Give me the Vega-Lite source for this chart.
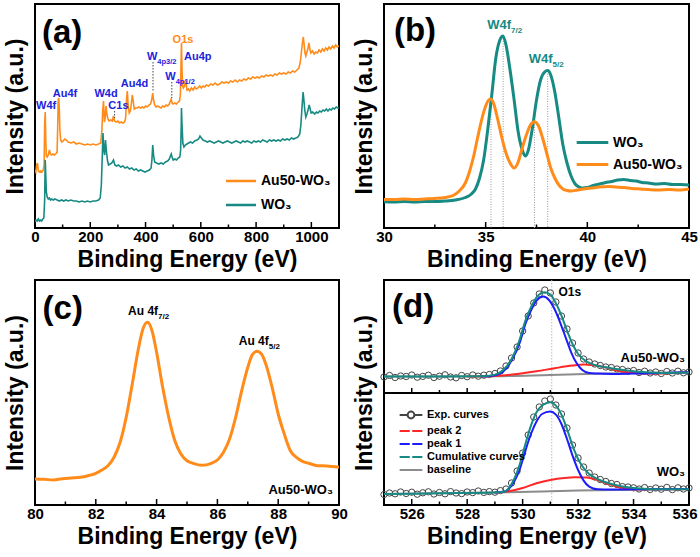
{
 "$schema": "https://vega.github.io/schema/vega-lite/v6.json",
 "background": "white",
 "padding": {"left": 3, "top": 3, "right": 1, "bottom": 1},
 "config": {
  "font": "Liberation Sans",
  "view": {"stroke": "black", "strokeWidth": 2},
  "axis": {"grid": false, "domain": false, "ticks": false, "labelFont": "Liberation Sans", "labelFontSize": 15, "labelFontWeight": "bold", "labelColor": "black", "titleFont": "Liberation Sans", "titleFontSize": 23, "titleFontWeight": "bold", "titleColor": "black"},
  "axisY": {"labels": false, "titlePadding": 8},
  "axisX": {"labelPadding": 1, "titlePadding": 4, "labelFlush": false},
  "text": {"font": "Liberation Sans", "fontWeight": "bold"}
 },
 "datasets": {
  "a": [
   {"s":"Au50-WO₃","E":0,"I":58},{"s":"Au50-WO₃","E":3,"I":56},{"s":"Au50-WO₃","E":6,"I":63},{"s":"Au50-WO₃","E":9,"I":65},{"s":"Au50-WO₃","E":12,"I":57},{"s":"Au50-WO₃","E":16,"I":56},{"s":"Au50-WO₃","E":20,"I":57},{"s":"Au50-WO₃","E":25,"I":56},{"s":"Au50-WO₃","E":30,"I":58},{"s":"Au50-WO₃","E":33,"I":63},{"s":"Au50-WO₃","E":35,"I":105},{"s":"Au50-WO₃","E":37,"I":116},{"s":"Au50-WO₃","E":39,"I":88},{"s":"Au50-WO₃","E":41,"I":72},{"s":"Au50-WO₃","E":44,"I":71},{"s":"Au50-WO₃","E":48,"I":73},{"s":"Au50-WO₃","E":52,"I":78},{"s":"Au50-WO₃","E":56,"I":74},{"s":"Au50-WO₃","E":60,"I":73},{"s":"Au50-WO₃","E":65,"I":74},{"s":"Au50-WO₃","E":70,"I":73},{"s":"Au50-WO₃","E":75,"I":74},{"s":"Au50-WO₃","E":80,"I":76},{"s":"Au50-WO₃","E":82,"I":100},{"s":"Au50-WO₃","E":84,"I":128},{"s":"Au50-WO₃","E":86,"I":130},{"s":"Au50-WO₃","E":88,"I":118},{"s":"Au50-WO₃","E":90,"I":98},{"s":"Au50-WO₃","E":93,"I":88},{"s":"Au50-WO₃","E":97,"I":86},{"s":"Au50-WO₃","E":102,"I":87},{"s":"Au50-WO₃","E":108,"I":89},{"s":"Au50-WO₃","E":114,"I":88},{"s":"Au50-WO₃","E":120,"I":86},{"s":"Au50-WO₃","E":130,"I":85},{"s":"Au50-WO₃","E":140,"I":86},{"s":"Au50-WO₃","E":150,"I":84},{"s":"Au50-WO₃","E":160,"I":85},{"s":"Au50-WO₃","E":170,"I":84},{"s":"Au50-WO₃","E":180,"I":83},{"s":"Au50-WO₃","E":190,"I":84},{"s":"Au50-WO₃","E":200,"I":83},{"s":"Au50-WO₃","E":210,"I":84},{"s":"Au50-WO₃","E":220,"I":83},{"s":"Au50-WO₃","E":230,"I":84},{"s":"Au50-WO₃","E":238,"I":85},{"s":"Au50-WO₃","E":242,"I":98},{"s":"Au50-WO₃","E":245,"I":118},{"s":"Au50-WO₃","E":248,"I":127},{"s":"Au50-WO₃","E":251,"I":106},{"s":"Au50-WO₃","E":254,"I":110},{"s":"Au50-WO₃","E":257,"I":122},{"s":"Au50-WO₃","E":260,"I":114},{"s":"Au50-WO₃","E":264,"I":109},{"s":"Au50-WO₃","E":268,"I":107},{"s":"Au50-WO₃","E":274,"I":108},{"s":"Au50-WO₃","E":280,"I":107},{"s":"Au50-WO₃","E":284,"I":112},{"s":"Au50-WO₃","E":288,"I":107},{"s":"Au50-WO₃","E":294,"I":106},{"s":"Au50-WO₃","E":300,"I":107},{"s":"Au50-WO₃","E":306,"I":105},{"s":"Au50-WO₃","E":312,"I":106},{"s":"Au50-WO₃","E":318,"I":105},{"s":"Au50-WO₃","E":324,"I":106},{"s":"Au50-WO₃","E":328,"I":110},{"s":"Au50-WO₃","E":331,"I":128},{"s":"Au50-WO₃","E":334,"I":137},{"s":"Au50-WO₃","E":337,"I":123},{"s":"Au50-WO₃","E":341,"I":115},{"s":"Au50-WO₃","E":345,"I":117},{"s":"Au50-WO₃","E":349,"I":125},{"s":"Au50-WO₃","E":352,"I":133},{"s":"Au50-WO₃","E":355,"I":128},{"s":"Au50-WO₃","E":359,"I":119},{"s":"Au50-WO₃","E":364,"I":120},{"s":"Au50-WO₃","E":370,"I":120},{"s":"Au50-WO₃","E":376,"I":121},{"s":"Au50-WO₃","E":382,"I":120},{"s":"Au50-WO₃","E":388,"I":121},{"s":"Au50-WO₃","E":394,"I":120},{"s":"Au50-WO₃","E":400,"I":122},{"s":"Au50-WO₃","E":406,"I":121},{"s":"Au50-WO₃","E":412,"I":123},{"s":"Au50-WO₃","E":418,"I":124},{"s":"Au50-WO₃","E":422,"I":128},{"s":"Au50-WO₃","E":426,"I":135},{"s":"Au50-WO₃","E":429,"I":128},{"s":"Au50-WO₃","E":433,"I":123},{"s":"Au50-WO₃","E":438,"I":121},{"s":"Au50-WO₃","E":444,"I":122},{"s":"Au50-WO₃","E":450,"I":121},{"s":"Au50-WO₃","E":456,"I":120},{"s":"Au50-WO₃","E":462,"I":122},{"s":"Au50-WO₃","E":468,"I":121},{"s":"Au50-WO₃","E":474,"I":123},{"s":"Au50-WO₃","E":480,"I":122},{"s":"Au50-WO₃","E":486,"I":124},{"s":"Au50-WO₃","E":490,"I":127},{"s":"Au50-WO₃","E":493,"I":129},{"s":"Au50-WO₃","E":496,"I":125},{"s":"Au50-WO₃","E":500,"I":124},{"s":"Au50-WO₃","E":506,"I":125},{"s":"Au50-WO₃","E":512,"I":124},{"s":"Au50-WO₃","E":518,"I":126},{"s":"Au50-WO₃","E":523,"I":127},{"s":"Au50-WO₃","E":526,"I":133},{"s":"Au50-WO₃","E":528,"I":158},{"s":"Au50-WO₃","E":530,"I":185},{"s":"Au50-WO₃","E":532,"I":158},{"s":"Au50-WO₃","E":534,"I":142},{"s":"Au50-WO₃","E":537,"I":140},{"s":"Au50-WO₃","E":541,"I":142},{"s":"Au50-WO₃","E":544,"I":148},{"s":"Au50-WO₃","E":547,"I":144},{"s":"Au50-WO₃","E":550,"I":138},{"s":"Au50-WO₃","E":555,"I":139},{"s":"Au50-WO₃","E":560,"I":137},{"s":"Au50-WO₃","E":566,"I":140},{"s":"Au50-WO₃","E":572,"I":138},{"s":"Au50-WO₃","E":578,"I":141},{"s":"Au50-WO₃","E":584,"I":139},{"s":"Au50-WO₃","E":590,"I":140},{"s":"Au50-WO₃","E":596,"I":142},{"s":"Au50-WO₃","E":602,"I":140},{"s":"Au50-WO₃","E":608,"I":142},{"s":"Au50-WO₃","E":614,"I":141},{"s":"Au50-WO₃","E":620,"I":143},{"s":"Au50-WO₃","E":628,"I":142},{"s":"Au50-WO₃","E":636,"I":144},{"s":"Au50-WO₃","E":644,"I":143},{"s":"Au50-WO₃","E":652,"I":145},{"s":"Au50-WO₃","E":660,"I":143},{"s":"Au50-WO₃","E":668,"I":144},{"s":"Au50-WO₃","E":676,"I":146},{"s":"Au50-WO₃","E":684,"I":145},{"s":"Au50-WO₃","E":692,"I":146},{"s":"Au50-WO₃","E":700,"I":145},{"s":"Au50-WO₃","E":708,"I":147},{"s":"Au50-WO₃","E":716,"I":146},{"s":"Au50-WO₃","E":724,"I":148},{"s":"Au50-WO₃","E":732,"I":146},{"s":"Au50-WO₃","E":740,"I":148},{"s":"Au50-WO₃","E":748,"I":147},{"s":"Au50-WO₃","E":756,"I":149},{"s":"Au50-WO₃","E":764,"I":148},{"s":"Au50-WO₃","E":772,"I":150},{"s":"Au50-WO₃","E":780,"I":149},{"s":"Au50-WO₃","E":788,"I":151},{"s":"Au50-WO₃","E":796,"I":150},{"s":"Au50-WO₃","E":804,"I":151},{"s":"Au50-WO₃","E":812,"I":150},{"s":"Au50-WO₃","E":820,"I":152},{"s":"Au50-WO₃","E":828,"I":151},{"s":"Au50-WO₃","E":836,"I":153},{"s":"Au50-WO₃","E":844,"I":152},{"s":"Au50-WO₃","E":852,"I":153},{"s":"Au50-WO₃","E":860,"I":152},{"s":"Au50-WO₃","E":868,"I":154},{"s":"Au50-WO₃","E":876,"I":153},{"s":"Au50-WO₃","E":884,"I":155},{"s":"Au50-WO₃","E":892,"I":154},{"s":"Au50-WO₃","E":900,"I":155},{"s":"Au50-WO₃","E":908,"I":154},{"s":"Au50-WO₃","E":916,"I":156},{"s":"Au50-WO₃","E":924,"I":155},{"s":"Au50-WO₃","E":932,"I":157},{"s":"Au50-WO₃","E":940,"I":156},{"s":"Au50-WO₃","E":948,"I":158},{"s":"Au50-WO₃","E":955,"I":160},{"s":"Au50-WO₃","E":960,"I":166},{"s":"Au50-WO₃","E":964,"I":176},{"s":"Au50-WO₃","E":968,"I":186},{"s":"Au50-WO₃","E":971,"I":191},{"s":"Au50-WO₃","E":974,"I":183},{"s":"Au50-WO₃","E":977,"I":175},{"s":"Au50-WO₃","E":980,"I":172},{"s":"Au50-WO₃","E":984,"I":176},{"s":"Au50-WO₃","E":988,"I":180},{"s":"Au50-WO₃","E":991,"I":185},{"s":"Au50-WO₃","E":994,"I":180},{"s":"Au50-WO₃","E":998,"I":175},{"s":"Au50-WO₃","E":1004,"I":177},{"s":"Au50-WO₃","E":1010,"I":174},{"s":"Au50-WO₃","E":1016,"I":176},{"s":"Au50-WO₃","E":1022,"I":175},{"s":"Au50-WO₃","E":1028,"I":178},{"s":"Au50-WO₃","E":1034,"I":176},{"s":"Au50-WO₃","E":1040,"I":179},{"s":"Au50-WO₃","E":1046,"I":177},{"s":"Au50-WO₃","E":1052,"I":180},{"s":"Au50-WO₃","E":1058,"I":178},{"s":"Au50-WO₃","E":1064,"I":181},{"s":"Au50-WO₃","E":1070,"I":179},{"s":"Au50-WO₃","E":1076,"I":182},{"s":"Au50-WO₃","E":1082,"I":180},{"s":"Au50-WO₃","E":1088,"I":183},{"s":"Au50-WO₃","E":1094,"I":181},{"s":"Au50-WO₃","E":1100,"I":182},
   {"s":"WO₃","E":0,"I":6},{"s":"WO₃","E":4,"I":8},{"s":"WO₃","E":8,"I":7},{"s":"WO₃","E":12,"I":9},{"s":"WO₃","E":16,"I":7},{"s":"WO₃","E":20,"I":8},{"s":"WO₃","E":24,"I":7},{"s":"WO₃","E":28,"I":9},{"s":"WO₃","E":32,"I":10},{"s":"WO₃","E":35,"I":28},{"s":"WO₃","E":37,"I":68},{"s":"WO₃","E":39,"I":53},{"s":"WO₃","E":41,"I":36},{"s":"WO₃","E":44,"I":31},{"s":"WO₃","E":48,"I":29},{"s":"WO₃","E":52,"I":30},{"s":"WO₃","E":56,"I":28},{"s":"WO₃","E":60,"I":29},{"s":"WO₃","E":66,"I":28},{"s":"WO₃","E":72,"I":29},{"s":"WO₃","E":80,"I":28},{"s":"WO₃","E":88,"I":27},{"s":"WO₃","E":96,"I":28},{"s":"WO₃","E":104,"I":27},{"s":"WO₃","E":112,"I":28},{"s":"WO₃","E":120,"I":27},{"s":"WO₃","E":130,"I":28},{"s":"WO₃","E":140,"I":27},{"s":"WO₃","E":150,"I":27},{"s":"WO₃","E":160,"I":26},{"s":"WO₃","E":170,"I":27},{"s":"WO₃","E":180,"I":26},{"s":"WO₃","E":190,"I":27},{"s":"WO₃","E":200,"I":26},{"s":"WO₃","E":210,"I":27},{"s":"WO₃","E":220,"I":27},{"s":"WO₃","E":230,"I":28},{"s":"WO₃","E":236,"I":30},{"s":"WO₃","E":240,"I":43},{"s":"WO₃","E":243,"I":68},{"s":"WO₃","E":246,"I":95},{"s":"WO₃","E":249,"I":78},{"s":"WO₃","E":252,"I":73},{"s":"WO₃","E":255,"I":88},{"s":"WO₃","E":258,"I":78},{"s":"WO₃","E":262,"I":68},{"s":"WO₃","E":266,"I":63},{"s":"WO₃","E":272,"I":64},{"s":"WO₃","E":278,"I":65},{"s":"WO₃","E":284,"I":68},{"s":"WO₃","E":289,"I":63},{"s":"WO₃","E":295,"I":62},{"s":"WO₃","E":302,"I":63},{"s":"WO₃","E":310,"I":61},{"s":"WO₃","E":318,"I":62},{"s":"WO₃","E":326,"I":60},{"s":"WO₃","E":334,"I":61},{"s":"WO₃","E":342,"I":59},{"s":"WO₃","E":350,"I":60},{"s":"WO₃","E":358,"I":58},{"s":"WO₃","E":366,"I":59},{"s":"WO₃","E":374,"I":57},{"s":"WO₃","E":382,"I":58},{"s":"WO₃","E":390,"I":57},{"s":"WO₃","E":398,"I":56},{"s":"WO₃","E":406,"I":57},{"s":"WO₃","E":414,"I":58},{"s":"WO₃","E":420,"I":60},{"s":"WO₃","E":423,"I":68},{"s":"WO₃","E":426,"I":83},{"s":"WO₃","E":429,"I":73},{"s":"WO₃","E":433,"I":66},{"s":"WO₃","E":440,"I":65},{"s":"WO₃","E":448,"I":64},{"s":"WO₃","E":456,"I":65},{"s":"WO₃","E":464,"I":64},{"s":"WO₃","E":472,"I":66},{"s":"WO₃","E":480,"I":67},{"s":"WO₃","E":486,"I":69},{"s":"WO₃","E":490,"I":72},{"s":"WO₃","E":493,"I":74},{"s":"WO₃","E":496,"I":71},{"s":"WO₃","E":500,"I":68},{"s":"WO₃","E":506,"I":69},{"s":"WO₃","E":512,"I":68},{"s":"WO₃","E":518,"I":70},{"s":"WO₃","E":524,"I":71},{"s":"WO₃","E":527,"I":78},{"s":"WO₃","E":529,"I":100},{"s":"WO₃","E":530,"I":120},{"s":"WO₃","E":532,"I":103},{"s":"WO₃","E":535,"I":85},{"s":"WO₃","E":539,"I":81},{"s":"WO₃","E":544,"I":83},{"s":"WO₃","E":550,"I":84},{"s":"WO₃","E":556,"I":85},{"s":"WO₃","E":562,"I":86},{"s":"WO₃","E":570,"I":85},{"s":"WO₃","E":578,"I":87},{"s":"WO₃","E":586,"I":88},{"s":"WO₃","E":592,"I":89},{"s":"WO₃","E":597,"I":92},{"s":"WO₃","E":602,"I":90},{"s":"WO₃","E":608,"I":88},{"s":"WO₃","E":616,"I":87},{"s":"WO₃","E":624,"I":86},{"s":"WO₃","E":632,"I":87},{"s":"WO₃","E":640,"I":86},{"s":"WO₃","E":648,"I":85},{"s":"WO₃","E":656,"I":86},{"s":"WO₃","E":664,"I":87},{"s":"WO₃","E":672,"I":86},{"s":"WO₃","E":680,"I":85},{"s":"WO₃","E":688,"I":86},{"s":"WO₃","E":696,"I":87},{"s":"WO₃","E":704,"I":86},{"s":"WO₃","E":712,"I":85},{"s":"WO₃","E":720,"I":86},{"s":"WO₃","E":728,"I":87},{"s":"WO₃","E":736,"I":86},{"s":"WO₃","E":744,"I":85},{"s":"WO₃","E":752,"I":87},{"s":"WO₃","E":760,"I":86},{"s":"WO₃","E":768,"I":87},{"s":"WO₃","E":776,"I":86},{"s":"WO₃","E":784,"I":85},{"s":"WO₃","E":792,"I":87},{"s":"WO₃","E":800,"I":86},{"s":"WO₃","E":808,"I":87},{"s":"WO₃","E":816,"I":86},{"s":"WO₃","E":824,"I":88},{"s":"WO₃","E":832,"I":87},{"s":"WO₃","E":840,"I":86},{"s":"WO₃","E":848,"I":88},{"s":"WO₃","E":856,"I":87},{"s":"WO₃","E":864,"I":88},{"s":"WO₃","E":872,"I":87},{"s":"WO₃","E":880,"I":88},{"s":"WO₃","E":888,"I":87},{"s":"WO₃","E":896,"I":89},{"s":"WO₃","E":904,"I":88},{"s":"WO₃","E":912,"I":89},{"s":"WO₃","E":920,"I":88},{"s":"WO₃","E":928,"I":90},{"s":"WO₃","E":936,"I":89},{"s":"WO₃","E":944,"I":90},{"s":"WO₃","E":952,"I":91},{"s":"WO₃","E":958,"I":94},{"s":"WO₃","E":962,"I":103},{"s":"WO₃","E":966,"I":120},{"s":"WO₃","E":970,"I":136},{"s":"WO₃","E":973,"I":128},{"s":"WO₃","E":976,"I":118},{"s":"WO₃","E":980,"I":111},{"s":"WO₃","E":984,"I":114},{"s":"WO₃","E":988,"I":118},{"s":"WO₃","E":992,"I":123},{"s":"WO₃","E":995,"I":120},{"s":"WO₃","E":999,"I":115},{"s":"WO₃","E":1005,"I":116},{"s":"WO₃","E":1012,"I":114},{"s":"WO₃","E":1018,"I":116},{"s":"WO₃","E":1024,"I":115},{"s":"WO₃","E":1030,"I":117},{"s":"WO₃","E":1036,"I":116},{"s":"WO₃","E":1042,"I":118},{"s":"WO₃","E":1048,"I":117},{"s":"WO₃","E":1054,"I":119},{"s":"WO₃","E":1060,"I":117},{"s":"WO₃","E":1066,"I":119},{"s":"WO₃","E":1072,"I":118},{"s":"WO₃","E":1078,"I":120},{"s":"WO₃","E":1084,"I":119},{"s":"WO₃","E":1090,"I":121},{"s":"WO₃","E":1096,"I":120},{"s":"WO₃","E":1100,"I":120}
  ],
  "a_w": [{"E":442.5,"I":168,"t":"W","u":"4p3/2"},{"E":509,"I":148,"t":"W","u":"4p1/2"}],
  "b": [
   {"s":"WO₃","E":30,"I":26.3},{"s":"WO₃","E":30.5,"I":26},{"s":"WO₃","E":31,"I":26.5},{"s":"WO₃","E":31.5,"I":26},{"s":"WO₃","E":32,"I":26.5},{"s":"WO₃","E":32.5,"I":26.5},{"s":"WO₃","E":33,"I":27},{"s":"WO₃","E":33.5,"I":28},{"s":"WO₃","E":34,"I":30.5},{"s":"WO₃","E":34.3,"I":34},{"s":"WO₃","E":34.5,"I":39},{"s":"WO₃","E":34.7,"I":50},{"s":"WO₃","E":34.9,"I":68},{"s":"WO₃","E":35.1,"I":98},{"s":"WO₃","E":35.3,"I":133},{"s":"WO₃","E":35.5,"I":170},{"s":"WO₃","E":35.7,"I":188},{"s":"WO₃","E":35.85,"I":192},{"s":"WO₃","E":36,"I":183},{"s":"WO₃","E":36.2,"I":158},{"s":"WO₃","E":36.4,"I":128},{"s":"WO₃","E":36.6,"I":96},{"s":"WO₃","E":36.8,"I":78},{"s":"WO₃","E":36.95,"I":72},{"s":"WO₃","E":37.1,"I":78},{"s":"WO₃","E":37.3,"I":100},{"s":"WO₃","E":37.5,"I":128},{"s":"WO₃","E":37.7,"I":148},{"s":"WO₃","E":37.9,"I":156},{"s":"WO₃","E":38.05,"I":157.5},{"s":"WO₃","E":38.2,"I":153},{"s":"WO₃","E":38.4,"I":136},{"s":"WO₃","E":38.6,"I":110},{"s":"WO₃","E":38.8,"I":83},{"s":"WO₃","E":39,"I":65},{"s":"WO₃","E":39.2,"I":52},{"s":"WO₃","E":39.4,"I":44},{"s":"WO₃","E":39.6,"I":41},{"s":"WO₃","E":39.8,"I":40},{"s":"WO₃","E":40,"I":40.5},{"s":"WO₃","E":40.3,"I":42.5},{"s":"WO₃","E":40.6,"I":44},{"s":"WO₃","E":40.9,"I":45.5},{"s":"WO₃","E":41.2,"I":46.5},{"s":"WO₃","E":41.5,"I":48},{"s":"WO₃","E":41.8,"I":48.5},{"s":"WO₃","E":42.1,"I":47.5},{"s":"WO₃","E":42.4,"I":47},{"s":"WO₃","E":42.7,"I":45.5},{"s":"WO₃","E":43,"I":45},{"s":"WO₃","E":43.4,"I":44},{"s":"WO₃","E":43.8,"I":44.5},{"s":"WO₃","E":44.2,"I":43.5},{"s":"WO₃","E":44.6,"I":43.5},{"s":"WO₃","E":45,"I":43},
   {"s":"Au50-WO₃","E":30,"I":28.5},{"s":"Au50-WO₃","E":30.5,"I":28.5},{"s":"Au50-WO₃","E":31,"I":29},{"s":"Au50-WO₃","E":31.5,"I":28.5},{"s":"Au50-WO₃","E":32,"I":29},{"s":"Au50-WO₃","E":32.5,"I":29.5},{"s":"Au50-WO₃","E":33,"I":30.5},{"s":"Au50-WO₃","E":33.4,"I":32.5},{"s":"Au50-WO₃","E":33.7,"I":37},{"s":"Au50-WO₃","E":34,"I":45},{"s":"Au50-WO₃","E":34.2,"I":56},{"s":"Au50-WO₃","E":34.4,"I":71},{"s":"Au50-WO₃","E":34.6,"I":90},{"s":"Au50-WO₃","E":34.8,"I":108},{"s":"Au50-WO₃","E":35,"I":122},{"s":"Au50-WO₃","E":35.15,"I":128},{"s":"Au50-WO₃","E":35.26,"I":129},{"s":"Au50-WO₃","E":35.4,"I":124},{"s":"Au50-WO₃","E":35.6,"I":108},{"s":"Au50-WO₃","E":35.8,"I":90},{"s":"Au50-WO₃","E":36,"I":75},{"s":"Au50-WO₃","E":36.2,"I":65},{"s":"Au50-WO₃","E":36.4,"I":60},{"s":"Au50-WO₃","E":36.6,"I":66},{"s":"Au50-WO₃","E":36.8,"I":80},{"s":"Au50-WO₃","E":37,"I":93},{"s":"Au50-WO₃","E":37.2,"I":103},{"s":"Au50-WO₃","E":37.4,"I":106.3},{"s":"Au50-WO₃","E":37.6,"I":102},{"s":"Au50-WO₃","E":37.8,"I":90},{"s":"Au50-WO₃","E":38,"I":75},{"s":"Au50-WO₃","E":38.2,"I":60},{"s":"Au50-WO₃","E":38.4,"I":50},{"s":"Au50-WO₃","E":38.6,"I":43},{"s":"Au50-WO₃","E":38.8,"I":39},{"s":"Au50-WO₃","E":39,"I":37.5},{"s":"Au50-WO₃","E":39.2,"I":37},{"s":"Au50-WO₃","E":39.5,"I":38},{"s":"Au50-WO₃","E":39.8,"I":39},{"s":"Au50-WO₃","E":40.2,"I":40},{"s":"Au50-WO₃","E":40.6,"I":41},{"s":"Au50-WO₃","E":41,"I":41.5},{"s":"Au50-WO₃","E":41.4,"I":41},{"s":"Au50-WO₃","E":41.8,"I":40.5},{"s":"Au50-WO₃","E":42.2,"I":39.5},{"s":"Au50-WO₃","E":42.6,"I":39},{"s":"Au50-WO₃","E":43,"I":38.5},{"s":"Au50-WO₃","E":43.5,"I":38},{"s":"Au50-WO₃","E":44,"I":38.5},{"s":"Au50-WO₃","E":44.5,"I":38},{"s":"Au50-WO₃","E":45,"I":39}
  ],
  "b_w": [{"E":36.25,"I":199,"t":"W4f","u":"7/2"},{"E":38.29,"I":165,"t":"W4f","u":"5/2"}],
  "c": [
   {"E":80,"I":26},{"E":80.3,"I":25.7},{"E":80.6,"I":25},{"E":80.9,"I":26.3},{"E":81.2,"I":27},{"E":81.5,"I":27.7},{"E":81.8,"I":29.7},{"E":82,"I":31.7},{"E":82.2,"I":35},{"E":82.4,"I":39.3},{"E":82.6,"I":47.7},{"E":82.8,"I":62.7},{"E":83,"I":87.7},{"E":83.2,"I":121},{"E":83.4,"I":156},{"E":83.55,"I":176},{"E":83.7,"I":182.7},{"E":83.85,"I":174.3},{"E":84,"I":152.7},{"E":84.2,"I":117.7},{"E":84.4,"I":87.7},{"E":84.6,"I":64.3},{"E":84.8,"I":51},{"E":85,"I":44.3},{"E":85.2,"I":41.7},{"E":85.5,"I":39.7},{"E":85.8,"I":41.7},{"E":86,"I":45},{"E":86.2,"I":52.7},{"E":86.4,"I":66},{"E":86.6,"I":87.7},{"E":86.8,"I":114.3},{"E":87,"I":137.7},{"E":87.15,"I":150.3},{"E":87.3,"I":153.7},{"E":87.45,"I":151},{"E":87.6,"I":140.3},{"E":87.8,"I":117.7},{"E":88,"I":91},{"E":88.2,"I":71},{"E":88.4,"I":54.3},{"E":88.6,"I":47.7},{"E":88.8,"I":43.7},{"E":89,"I":41.7},{"E":89.3,"I":39.3},{"E":89.6,"I":39},{"E":90,"I":37.7}
  ],
  "c_w": [{"E":84.05,"I":189.7,"t":"Au 4f","u":"7/2"},{"E":87.69,"I":159.7,"t":"Au 4f","u":"5/2"}],
  "d": [
   {"s":"baseline","p":"u","E":525,"I":128.4},{"s":"baseline","p":"u","E":529,"I":128.7},{"s":"baseline","p":"u","E":531,"I":130},{"s":"baseline","p":"u","E":533,"I":131.4},{"s":"baseline","p":"u","E":536,"I":132.7},
   {"s":"peak 2","p":"u","E":528,"I":128.4},{"s":"peak 2","p":"u","E":529,"I":129},{"s":"peak 2","p":"u","E":529.8,"I":131},{"s":"peak 2","p":"u","E":530.5,"I":133.7},{"s":"peak 2","p":"u","E":531.2,"I":137},{"s":"peak 2","p":"u","E":531.8,"I":139.4},{"s":"peak 2","p":"u","E":532.2,"I":140.4},{"s":"peak 2","p":"u","E":532.6,"I":139.7},{"s":"peak 2","p":"u","E":533,"I":137.4},{"s":"peak 2","p":"u","E":533.5,"I":134},{"s":"peak 2","p":"u","E":534,"I":132},{"s":"peak 2","p":"u","E":534.6,"I":131.4},{"s":"peak 2","p":"u","E":535.2,"I":131.7},{"s":"peak 2","p":"u","E":536,"I":132.7},
   {"s":"peak 1","p":"u","E":528.5,"I":128.4},{"s":"peak 1","p":"u","E":529,"I":129.7},{"s":"peak 1","p":"u","E":529.3,"I":133.4},{"s":"peak 1","p":"u","E":529.6,"I":144.4},{"s":"peak 1","p":"u","E":529.9,"I":162.7},{"s":"peak 1","p":"u","E":530.1,"I":181},{"s":"peak 1","p":"u","E":530.3,"I":194.4},{"s":"peak 1","p":"u","E":530.5,"I":204.4},{"s":"peak 1","p":"u","E":530.74,"I":208.4},{"s":"peak 1","p":"u","E":530.95,"I":205},{"s":"peak 1","p":"u","E":531.15,"I":196},{"s":"peak 1","p":"u","E":531.35,"I":182.7},{"s":"peak 1","p":"u","E":531.55,"I":167.7},{"s":"peak 1","p":"u","E":531.75,"I":152.7},{"s":"peak 1","p":"u","E":531.95,"I":141.7},{"s":"peak 1","p":"u","E":532.15,"I":135},{"s":"peak 1","p":"u","E":532.4,"I":132},{"s":"peak 1","p":"u","E":532.7,"I":131.4},{"s":"peak 1","p":"u","E":533.2,"I":131},{"s":"peak 1","p":"u","E":534,"I":131.4},{"s":"peak 1","p":"u","E":535,"I":132},{"s":"peak 1","p":"u","E":536,"I":132.7},
   {"s":"Cumulative curves","p":"u","E":525,"I":128.4},{"s":"Cumulative curves","p":"u","E":527,"I":128.4},{"s":"Cumulative curves","p":"u","E":528.5,"I":128.7},{"s":"Cumulative curves","p":"u","E":529,"I":130.4},{"s":"Cumulative curves","p":"u","E":529.3,"I":135},{"s":"Cumulative curves","p":"u","E":529.6,"I":146},{"s":"Cumulative curves","p":"u","E":529.9,"I":166},{"s":"Cumulative curves","p":"u","E":530.1,"I":184.4},{"s":"Cumulative curves","p":"u","E":530.3,"I":197.7},{"s":"Cumulative curves","p":"u","E":530.5,"I":207.7},{"s":"Cumulative curves","p":"u","E":530.8,"I":212.7},{"s":"Cumulative curves","p":"u","E":531,"I":210.4},{"s":"Cumulative curves","p":"u","E":531.2,"I":201.7},{"s":"Cumulative curves","p":"u","E":531.4,"I":189.4},{"s":"Cumulative curves","p":"u","E":531.6,"I":174.4},{"s":"Cumulative curves","p":"u","E":531.8,"I":161},{"s":"Cumulative curves","p":"u","E":532,"I":151},{"s":"Cumulative curves","p":"u","E":532.3,"I":143.7},{"s":"Cumulative curves","p":"u","E":532.6,"I":140},{"s":"Cumulative curves","p":"u","E":533,"I":137.7},{"s":"Cumulative curves","p":"u","E":533.5,"I":135.4},{"s":"Cumulative curves","p":"u","E":534,"I":133.7},{"s":"Cumulative curves","p":"u","E":534.5,"I":132.7},{"s":"Cumulative curves","p":"u","E":535,"I":132},{"s":"Cumulative curves","p":"u","E":536,"I":132.4},
   {"s":"baseline","p":"l","E":525,"I":11},{"s":"baseline","p":"l","E":529.4,"I":12.7},{"s":"baseline","p":"l","E":532,"I":14.4},{"s":"baseline","p":"l","E":536,"I":16},
   {"s":"peak 2","p":"l","E":529,"I":12.4},{"s":"peak 2","p":"l","E":529.5,"I":13.7},{"s":"peak 2","p":"l","E":530,"I":17},{"s":"peak 2","p":"l","E":530.5,"I":21.7},{"s":"peak 2","p":"l","E":531,"I":25},{"s":"peak 2","p":"l","E":531.5,"I":27},{"s":"peak 2","p":"l","E":531.9,"I":27.7},{"s":"peak 2","p":"l","E":532.3,"I":27.4},{"s":"peak 2","p":"l","E":532.7,"I":25},{"s":"peak 2","p":"l","E":533.1,"I":21},{"s":"peak 2","p":"l","E":533.5,"I":17.7},{"s":"peak 2","p":"l","E":534,"I":15.7},{"s":"peak 2","p":"l","E":535,"I":15.7},{"s":"peak 2","p":"l","E":536,"I":16},
   {"s":"peak 1","p":"l","E":529,"I":12.4},{"s":"peak 1","p":"l","E":529.35,"I":13.4},{"s":"peak 1","p":"l","E":529.6,"I":19.4},{"s":"peak 1","p":"l","E":529.9,"I":36},{"s":"peak 1","p":"l","E":530.1,"I":54.4},{"s":"peak 1","p":"l","E":530.3,"I":71},{"s":"peak 1","p":"l","E":530.5,"I":83.4},{"s":"peak 1","p":"l","E":530.7,"I":91},{"s":"peak 1","p":"l","E":530.99,"I":93.4},{"s":"peak 1","p":"l","E":531.2,"I":90.4},{"s":"peak 1","p":"l","E":531.4,"I":81},{"s":"peak 1","p":"l","E":531.6,"I":66},{"s":"peak 1","p":"l","E":531.8,"I":49.4},{"s":"peak 1","p":"l","E":532,"I":35},{"s":"peak 1","p":"l","E":532.2,"I":24.4},{"s":"peak 1","p":"l","E":532.4,"I":18.4},{"s":"peak 1","p":"l","E":532.7,"I":15.7},{"s":"peak 1","p":"l","E":533.2,"I":15.4},{"s":"peak 1","p":"l","E":534,"I":15.7},{"s":"peak 1","p":"l","E":536,"I":16},
   {"s":"Cumulative curves","p":"l","E":525,"I":11},{"s":"Cumulative curves","p":"l","E":527,"I":11.7},{"s":"Cumulative curves","p":"l","E":529,"I":12.4},{"s":"Cumulative curves","p":"l","E":529.35,"I":13.4},{"s":"Cumulative curves","p":"l","E":529.6,"I":21},{"s":"Cumulative curves","p":"l","E":529.9,"I":41},{"s":"Cumulative curves","p":"l","E":530.1,"I":61},{"s":"Cumulative curves","p":"l","E":530.3,"I":79.4},{"s":"Cumulative curves","p":"l","E":530.5,"I":92.7},{"s":"Cumulative curves","p":"l","E":530.7,"I":99.4},{"s":"Cumulative curves","p":"l","E":530.99,"I":102.7},{"s":"Cumulative curves","p":"l","E":531.2,"I":99.4},{"s":"Cumulative curves","p":"l","E":531.4,"I":90.4},{"s":"Cumulative curves","p":"l","E":531.6,"I":76},{"s":"Cumulative curves","p":"l","E":531.8,"I":59.4},{"s":"Cumulative curves","p":"l","E":532,"I":46},{"s":"Cumulative curves","p":"l","E":532.2,"I":37},{"s":"Cumulative curves","p":"l","E":532.4,"I":31},{"s":"Cumulative curves","p":"l","E":532.7,"I":26},{"s":"Cumulative curves","p":"l","E":533,"I":22.7},{"s":"Cumulative curves","p":"l","E":533.5,"I":19},{"s":"Cumulative curves","p":"l","E":534,"I":17},{"s":"Cumulative curves","p":"l","E":534.5,"I":16},{"s":"Cumulative curves","p":"l","E":535,"I":15.7},{"s":"Cumulative curves","p":"l","E":536,"I":15.7}
  ],
  "dp": [
   {"s":"Exp. curves","p":"u","E":525,"I":128},{"s":"Exp. curves","p":"u","E":525.2,"I":129.5},{"s":"Exp. curves","p":"u","E":525.4,"I":127.5},{"s":"Exp. curves","p":"u","E":525.6,"I":129},{"s":"Exp. curves","p":"u","E":525.8,"I":128.5},{"s":"Exp. curves","p":"u","E":526,"I":130},{"s":"Exp. curves","p":"u","E":526.2,"I":127.8},{"s":"Exp. curves","p":"u","E":526.4,"I":128.6},{"s":"Exp. curves","p":"u","E":526.6,"I":129.8},{"s":"Exp. curves","p":"u","E":526.8,"I":127.5},{"s":"Exp. curves","p":"u","E":527,"I":128.8},{"s":"Exp. curves","p":"u","E":527.2,"I":130.2},{"s":"Exp. curves","p":"u","E":527.4,"I":128},{"s":"Exp. curves","p":"u","E":527.6,"I":127.2},{"s":"Exp. curves","p":"u","E":527.8,"I":129.5},{"s":"Exp. curves","p":"u","E":528,"I":128.3},{"s":"Exp. curves","p":"u","E":528.2,"I":130},{"s":"Exp. curves","p":"u","E":528.4,"I":128.8},{"s":"Exp. curves","p":"u","E":528.6,"I":129.8},{"s":"Exp. curves","p":"u","E":528.8,"I":130.5},{"s":"Exp. curves","p":"u","E":529,"I":131.5},{"s":"Exp. curves","p":"u","E":529.2,"I":134},{"s":"Exp. curves","p":"u","E":529.4,"I":139},{"s":"Exp. curves","p":"u","E":529.6,"I":147},{"s":"Exp. curves","p":"u","E":529.8,"I":158},{"s":"Exp. curves","p":"u","E":530,"I":174},{"s":"Exp. curves","p":"u","E":530.2,"I":189},{"s":"Exp. curves","p":"u","E":530.4,"I":202},{"s":"Exp. curves","p":"u","E":530.6,"I":211},{"s":"Exp. curves","p":"u","E":530.8,"I":215},{"s":"Exp. curves","p":"u","E":531,"I":212},{"s":"Exp. curves","p":"u","E":531.2,"I":203},{"s":"Exp. curves","p":"u","E":531.4,"I":189},{"s":"Exp. curves","p":"u","E":531.6,"I":176},{"s":"Exp. curves","p":"u","E":531.8,"I":162},{"s":"Exp. curves","p":"u","E":532,"I":152},{"s":"Exp. curves","p":"u","E":532.2,"I":146},{"s":"Exp. curves","p":"u","E":532.4,"I":143},{"s":"Exp. curves","p":"u","E":532.6,"I":141},{"s":"Exp. curves","p":"u","E":532.8,"I":139.5},{"s":"Exp. curves","p":"u","E":533,"I":138},{"s":"Exp. curves","p":"u","E":533.2,"I":137.5},{"s":"Exp. curves","p":"u","E":533.4,"I":136},{"s":"Exp. curves","p":"u","E":533.6,"I":135.5},{"s":"Exp. curves","p":"u","E":533.8,"I":133.8},{"s":"Exp. curves","p":"u","E":534,"I":134.5},{"s":"Exp. curves","p":"u","E":534.2,"I":132.5},{"s":"Exp. curves","p":"u","E":534.4,"I":133.8},{"s":"Exp. curves","p":"u","E":534.6,"I":132},{"s":"Exp. curves","p":"u","E":534.8,"I":133},{"s":"Exp. curves","p":"u","E":535,"I":131.5},{"s":"Exp. curves","p":"u","E":535.2,"I":133.5},{"s":"Exp. curves","p":"u","E":535.4,"I":132},{"s":"Exp. curves","p":"u","E":535.6,"I":133.8},{"s":"Exp. curves","p":"u","E":535.8,"I":132.2},{"s":"Exp. curves","p":"u","E":536,"I":133},
   {"s":"Exp. curves","p":"l","E":525,"I":10.5},{"s":"Exp. curves","p":"l","E":525.2,"I":12},{"s":"Exp. curves","p":"l","E":525.4,"I":11.2},{"s":"Exp. curves","p":"l","E":525.6,"I":13},{"s":"Exp. curves","p":"l","E":525.8,"I":11.5},{"s":"Exp. curves","p":"l","E":526,"I":12.8},{"s":"Exp. curves","p":"l","E":526.2,"I":10.8},{"s":"Exp. curves","p":"l","E":526.4,"I":12.2},{"s":"Exp. curves","p":"l","E":526.6,"I":13.2},{"s":"Exp. curves","p":"l","E":526.8,"I":11},{"s":"Exp. curves","p":"l","E":527,"I":12.5},{"s":"Exp. curves","p":"l","E":527.2,"I":11.2},{"s":"Exp. curves","p":"l","E":527.4,"I":13.4},{"s":"Exp. curves","p":"l","E":527.6,"I":12},{"s":"Exp. curves","p":"l","E":527.8,"I":11.4},{"s":"Exp. curves","p":"l","E":528,"I":13},{"s":"Exp. curves","p":"l","E":528.2,"I":12.4},{"s":"Exp. curves","p":"l","E":528.4,"I":14},{"s":"Exp. curves","p":"l","E":528.6,"I":12.6},{"s":"Exp. curves","p":"l","E":528.8,"I":13.4},{"s":"Exp. curves","p":"l","E":529,"I":12.8},{"s":"Exp. curves","p":"l","E":529.2,"I":14.4},{"s":"Exp. curves","p":"l","E":529.4,"I":16},{"s":"Exp. curves","p":"l","E":529.6,"I":22},{"s":"Exp. curves","p":"l","E":529.8,"I":34},{"s":"Exp. curves","p":"l","E":530,"I":52},{"s":"Exp. curves","p":"l","E":530.2,"I":70},{"s":"Exp. curves","p":"l","E":530.4,"I":88},{"s":"Exp. curves","p":"l","E":530.6,"I":98},{"s":"Exp. curves","p":"l","E":530.8,"I":104},{"s":"Exp. curves","p":"l","E":531,"I":106},{"s":"Exp. curves","p":"l","E":531.2,"I":100},{"s":"Exp. curves","p":"l","E":531.4,"I":91},{"s":"Exp. curves","p":"l","E":531.6,"I":77},{"s":"Exp. curves","p":"l","E":531.8,"I":60},{"s":"Exp. curves","p":"l","E":532,"I":47},{"s":"Exp. curves","p":"l","E":532.2,"I":38},{"s":"Exp. curves","p":"l","E":532.4,"I":32},{"s":"Exp. curves","p":"l","E":532.6,"I":28},{"s":"Exp. curves","p":"l","E":532.8,"I":25.5},{"s":"Exp. curves","p":"l","E":533,"I":23.5},{"s":"Exp. curves","p":"l","E":533.2,"I":21.5},{"s":"Exp. curves","p":"l","E":533.4,"I":20.5},{"s":"Exp. curves","p":"l","E":533.6,"I":18.4},{"s":"Exp. curves","p":"l","E":533.8,"I":18},{"s":"Exp. curves","p":"l","E":534,"I":17.2},{"s":"Exp. curves","p":"l","E":534.2,"I":16},{"s":"Exp. curves","p":"l","E":534.4,"I":17.4},{"s":"Exp. curves","p":"l","E":534.6,"I":15.5},{"s":"Exp. curves","p":"l","E":534.8,"I":17},{"s":"Exp. curves","p":"l","E":535,"I":15.8},{"s":"Exp. curves","p":"l","E":535.2,"I":17.6},{"s":"Exp. curves","p":"l","E":535.4,"I":15.4},{"s":"Exp. curves","p":"l","E":535.6,"I":17.2},{"s":"Exp. curves","p":"l","E":535.8,"I":16},{"s":"Exp. curves","p":"l","E":536,"I":17}
  ]
 },
 "resolve": {"scale": {"x": "independent", "y": "independent", "color": "independent"}, "legend": {"color": "independent"}, "axis": {"x": "independent", "y": "independent"}},
 "spacing": 6,
 "vconcat": [
  {
   "spacing": 12,
   "resolve": {"scale": {"x": "independent", "y": "independent", "color": "independent"}, "legend": {"color": "independent"}, "axis": {"x": "independent", "y": "independent"}},
   "hconcat": [
    {
     "width": 304, "height": 224,
     "layer": [
      {
       "data": {"name": "a"},
       "mark": {"type": "line", "strokeWidth": 1.6, "clip": true},
       "encoding": {
        "x": {"field": "E", "type": "quantitative", "scale": {"domain": [0, 1100], "nice": false, "zero": false},
              "axis": {"title": "Binding Energy (eV)", "values": [0,200,400,600,800,1000], "format": "d"}},
        "y": {"field": "I", "type": "quantitative", "scale": {"domain": [0, 224], "nice": false, "zero": false}, "axis": {"title": "Intensity (a.u.)"}},
        "color": {"field": "s", "type": "nominal", "scale": {"domain": ["Au50-WO₃", "WO₃"], "range": ["#ff8c1a", "#168a83"]},
                  "legend": {"title": null, "orient": "none", "legendX": 197, "legendY": 168, "padding": 0, "symbolType": "M-2,0L2,0", "symbolSize": 225, "symbolStrokeWidth": 2.5, "labelFont": "Liberation Sans", "labelFontSize": 14, "labelFontWeight": "bold", "labelColor": "black", "labelOffset": 11, "rowPadding": 8}}
       }
      },
      {
       "data": {"values": [{"E": 200}, {"E": 400}, {"E": 600}, {"E": 800}, {"E": 1000}]},
       "mark": {"type": "rule", "color": "black", "strokeWidth": 1.5},
       "encoding": {"x": {"field": "E", "type": "quantitative"}, "y": {"datum": 0}, "y2": {"datum": 6}}
      },
      {
       "data": {"values": [{"E": 100}, {"E": 300}, {"E": 500}, {"E": 700}, {"E": 900}]},
       "mark": {"type": "rule", "color": "black", "strokeWidth": 1.5},
       "encoding": {"x": {"field": "E", "type": "quantitative"}, "y": {"datum": 0}, "y2": {"datum": 3.5}}
      },
      {
       "data": {"values": [{"E": 427, "I": 166, "I2": 136}, {"E": 495, "I": 146, "I2": 130}, {"E": 288, "I": 117, "I2": 110}]},
       "mark": {"type": "rule", "strokeDash": [1.5, 1.5], "color": "#444444", "strokeWidth": 1},
       "encoding": {"x": {"field": "E", "type": "quantitative"}, "y": {"field": "I", "type": "quantitative"}, "y2": {"field": "I2"}}
      },
      {
       "data": {"values": [{"E": 40.5, "I": 119, "t": "W4f"}, {"E": 108.5, "I": 130.7, "t": "Au4f"}, {"E": 256.9, "I": 131, "t": "W4d"}, {"E": 302, "I": 119, "t": "C1s"}, {"E": 360, "I": 141, "t": "Au4d"}, {"E": 589, "I": 168, "t": "Au4p"}]},
       "mark": {"type": "text", "font": "Liberation Sans", "fontWeight": "bold", "fontSize": 11, "color": "#2222dd", "align": "center", "baseline": "alphabetic"},
       "encoding": {"x": {"field": "E", "type": "quantitative"}, "y": {"field": "I", "type": "quantitative"}, "text": {"field": "t"}}
      },
      {
       "data": {"name": "a_w"},
       "mark": {"type": "text", "font": "Liberation Sans", "fontWeight": "bold", "fontSize": 11, "color": "#2222dd", "align": "right", "baseline": "alphabetic"},
       "encoding": {"x": {"field": "E", "type": "quantitative"}, "y": {"field": "I", "type": "quantitative"}, "text": {"field": "t"}}
      },
      {
       "data": {"name": "a_w"},
       "mark": {"type": "text", "font": "Liberation Sans", "fontWeight": "bold", "fontSize": 7.5, "color": "#2222dd", "align": "left", "baseline": "alphabetic", "dy": 4},
       "encoding": {"x": {"field": "E", "type": "quantitative"}, "y": {"field": "I", "type": "quantitative"}, "text": {"field": "u"}}
      },
      {
       "data": {"values": [{"E": 535.5, "I": 185, "t": "O1s"}]},
       "mark": {"type": "text", "font": "Liberation Sans", "fontWeight": "bold", "fontSize": 11, "color": "#ff8c1a", "align": "center", "baseline": "alphabetic"},
       "encoding": {"x": {"field": "E", "type": "quantitative"}, "y": {"field": "I", "type": "quantitative"}, "text": {"field": "t"}}
      },
      {
       "data": {"values": [{"E": 25, "I": 195, "t": "(a)"}]},
       "mark": {"type": "text", "font": "Liberation Sans", "fontWeight": "bold", "fontSize": 33, "color": "black", "align": "left", "baseline": "middle"},
       "encoding": {"x": {"field": "E", "type": "quantitative"}, "y": {"field": "I", "type": "quantitative"}, "text": {"field": "t"}}
      }
     ]
    },
    {
     "width": 305, "height": 224,
     "layer": [
      {
       "data": {"values": [{"E": 35.26, "I": 129, "I2": 0}, {"E": 35.86, "I": 192, "I2": 0}, {"E": 37.4, "I": 106, "I2": 0}, {"E": 38.05, "I": 157, "I2": 0}]},
       "mark": {"type": "rule", "strokeDash": [1, 1.5], "color": "#999999", "strokeWidth": 1},
       "encoding": {"x": {"field": "E", "type": "quantitative"}, "y": {"field": "I", "type": "quantitative"}, "y2": {"field": "I2"}}
      },
      {
       "data": {"name": "b"},
       "mark": {"type": "line", "strokeWidth": 3, "interpolate": "monotone", "clip": true},
       "encoding": {
        "x": {"field": "E", "type": "quantitative", "scale": {"domain": [30, 45], "nice": false, "zero": false},
              "axis": {"title": "Binding Energy (eV)", "values": [30, 35, 40, 45]}},
        "y": {"field": "I", "type": "quantitative", "scale": {"domain": [0, 224], "nice": false, "zero": false}, "axis": {"title": "Intensity (a.u.)"}},
        "color": {"field": "s", "type": "nominal", "scale": {"domain": ["WO₃", "Au50-WO₃"], "range": ["#168a83", "#ff8c1a"]},
                  "legend": {"title": null, "orient": "none", "legendX": 199, "legendY": 129, "padding": 0, "symbolType": "M-2,0L2,0", "symbolSize": 250, "symbolStrokeWidth": 3, "labelFont": "Liberation Sans", "labelFontSize": 14, "labelFontWeight": "bold", "labelColor": "black", "labelOffset": 11, "rowPadding": 5}}
       }
      },
      {
       "data": {"values": [{"E": 35}, {"E": 40}]},
       "mark": {"type": "rule", "color": "black", "strokeWidth": 1.5},
       "encoding": {"x": {"field": "E", "type": "quantitative"}, "y": {"datum": 0}, "y2": {"datum": 6}}
      },
      {
       "data": {"values": [{"E": 32.5}, {"E": 37.5}, {"E": 42.5}]},
       "mark": {"type": "rule", "color": "black", "strokeWidth": 1.5},
       "encoding": {"x": {"field": "E", "type": "quantitative"}, "y": {"datum": 0}, "y2": {"datum": 3.5}}
      },
      {
       "data": {"name": "b_w"},
       "mark": {"type": "text", "font": "Liberation Sans", "fontWeight": "bold", "fontSize": 13, "color": "#168a83", "align": "right", "baseline": "alphabetic"},
       "encoding": {"x": {"field": "E", "type": "quantitative"}, "y": {"field": "I", "type": "quantitative"}, "text": {"field": "t"}}
      },
      {
       "data": {"name": "b_w"},
       "mark": {"type": "text", "font": "Liberation Sans", "fontWeight": "bold", "fontSize": 8, "color": "#168a83", "align": "left", "baseline": "alphabetic", "dy": 4},
       "encoding": {"x": {"field": "E", "type": "quantitative"}, "y": {"field": "I", "type": "quantitative"}, "text": {"field": "u"}}
      },
      {
       "data": {"values": [{"E": 30.49, "I": 197, "t": "(b)"}]},
       "mark": {"type": "text", "font": "Liberation Sans", "fontWeight": "bold", "fontSize": 33, "color": "black", "align": "left", "baseline": "middle"},
       "encoding": {"x": {"field": "E", "type": "quantitative"}, "y": {"field": "I", "type": "quantitative"}, "text": {"field": "t"}}
      }
     ]
    }
   ]
  },
  {
   "spacing": 3,
   "resolve": {"scale": {"x": "independent", "y": "independent", "color": "independent"}, "legend": {"color": "independent"}, "axis": {"x": "independent", "y": "independent"}},
   "hconcat": [
    {
     "width": 304, "height": 225,
     "layer": [
      {
       "data": {"name": "c"},
       "mark": {"type": "line", "strokeWidth": 3, "interpolate": "monotone", "color": "#ff8c1a", "clip": true},
       "encoding": {
        "x": {"field": "E", "type": "quantitative", "scale": {"domain": [80, 90], "nice": false, "zero": false},
              "axis": {"title": "Binding Energy (eV)", "values": [80,82,84,86,88,90]}},
        "y": {"field": "I", "type": "quantitative", "scale": {"domain": [0, 225], "nice": false, "zero": false}, "axis": {"title": "Intensity (a.u.)"}}
       }
      },
      {
       "data": {"values": [{"E": 82}, {"E": 84}, {"E": 86}, {"E": 88}]},
       "mark": {"type": "rule", "color": "black", "strokeWidth": 1.5},
       "encoding": {"x": {"field": "E", "type": "quantitative"}, "y": {"datum": 0}, "y2": {"datum": 6}}
      },
      {
       "data": {"values": [{"E": 81}, {"E": 83}, {"E": 85}, {"E": 87}, {"E": 89}]},
       "mark": {"type": "rule", "color": "black", "strokeWidth": 1.5},
       "encoding": {"x": {"field": "E", "type": "quantitative"}, "y": {"datum": 0}, "y2": {"datum": 3.5}}
      },
      {
       "data": {"name": "c_w"},
       "mark": {"type": "text", "font": "Liberation Sans", "fontWeight": "bold", "fontSize": 12, "color": "black", "align": "right", "baseline": "alphabetic"},
       "encoding": {"x": {"field": "E", "type": "quantitative"}, "y": {"field": "I", "type": "quantitative"}, "text": {"field": "t"}}
      },
      {
       "data": {"name": "c_w"},
       "mark": {"type": "text", "font": "Liberation Sans", "fontWeight": "bold", "fontSize": 8, "color": "black", "align": "left", "baseline": "alphabetic", "dy": 4},
       "encoding": {"x": {"field": "E", "type": "quantitative"}, "y": {"field": "I", "type": "quantitative"}, "text": {"field": "u"}}
      },
      {
       "data": {"values": [{"E": 89.8, "I": 11, "t": "Au50-WO₃"}]},
       "mark": {"type": "text", "font": "Liberation Sans", "fontWeight": "bold", "fontSize": 13, "color": "black", "align": "right", "baseline": "alphabetic"},
       "encoding": {"x": {"field": "E", "type": "quantitative"}, "y": {"field": "I", "type": "quantitative"}, "text": {"field": "t"}}
      },
      {
       "data": {"values": [{"E": 80.25, "I": 195.7, "t": "(c)"}]},
       "mark": {"type": "text", "font": "Liberation Sans", "fontWeight": "bold", "fontSize": 33, "color": "black", "align": "left", "baseline": "middle"},
       "encoding": {"x": {"field": "E", "type": "quantitative"}, "y": {"field": "I", "type": "quantitative"}, "text": {"field": "t"}}
      }
     ]
    },
    {
     "width": 305, "height": 225,
     "layer": [
      {
       "data": {"values": [{"E": 531.05}]},
       "mark": {"type": "rule", "strokeDash": [1.5, 1.5], "color": "#bbbbbb", "strokeWidth": 1},
       "encoding": {"x": {"field": "E", "type": "quantitative"}}
      },
      {
       "data": {"name": "dp"},
       "mark": {"type": "point", "shape": "circle", "filled": false, "size": 40, "strokeWidth": 1, "opacity": 1},
       "encoding": {
        "x": {"field": "E", "type": "quantitative"},
        "y": {"field": "I", "type": "quantitative"},
        "color": {"field": "s", "type": "nominal"}
       }
      },
      {
       "data": {"name": "d"},
       "mark": {"type": "line", "strokeWidth": 2, "interpolate": "monotone", "clip": true},
       "encoding": {
        "x": {"field": "E", "type": "quantitative", "scale": {"domain": [525, 536], "nice": false, "zero": false},
              "axis": {"title": "Binding Energy (eV)", "values": [526,528,530,532,534,536], "labelFlush": true, "labelFlushOffset": 8}},
        "y": {"field": "I", "type": "quantitative", "scale": {"domain": [0, 225], "nice": false, "zero": false}, "axis": {"title": "Intensity (a.u.)"}},
        "detail": {"field": "p"},
        "color": {"field": "s", "type": "nominal", "scale": {"domain": ["Exp. curves", "peak 2", "peak 1", "Cumulative curves", "baseline"], "range": ["#444444", "#ff2626", "#1c1cff", "#168a83", "#8c8c8c"]},
                  "legend": {"title": null, "orient": "none", "legendX": 20, "legendY": 128, "padding": 0, "symbolType": "M-2,0L2,0", "symbolSize": 129, "symbolStrokeWidth": 2, "labelFont": "Liberation Sans", "labelFontSize": 11, "labelFontWeight": "bold", "labelColor": "black", "labelOffset": 9, "rowPadding": 1,
                             "encode": {"symbols": {"update": {"shape": {"signal": "datum.value === 'Exp. curves' ? 'M-2,0L-0.6,0M0.6,0L2,0M0.6,0A0.6,0.6,0,1,1,-0.6,0A0.6,0.6,0,1,1,0.6,0' : (datum.value === 'baseline' ? 'M-2,0L2,0' : 'M-2,0L-0.22,0M0.22,0L2,0')"}, "fill": {"value": "transparent"}}}}}}
       }
      },
      {
       "data": {"values": [{"I": 112}]},
       "mark": {"type": "rule", "color": "black", "strokeWidth": 2},
       "encoding": {"y": {"field": "I", "type": "quantitative"}}
      },
      {
       "data": {"values": [{"E": 526}, {"E": 528}, {"E": 530}, {"E": 532}, {"E": 534}]},
       "mark": {"type": "rule", "color": "black", "strokeWidth": 1.5},
       "encoding": {"x": {"field": "E", "type": "quantitative"}, "y": {"datum": 112}, "y2": {"datum": 117}}
      },
      {
       "data": {"values": [{"E": 527}, {"E": 529}, {"E": 531}, {"E": 533}, {"E": 535}]},
       "mark": {"type": "rule", "color": "black", "strokeWidth": 1.5},
       "encoding": {"x": {"field": "E", "type": "quantitative"}, "y": {"datum": 112}, "y2": {"datum": 115}}
      },
      {
       "data": {"values": [{"E": 526}, {"E": 528}, {"E": 530}, {"E": 532}, {"E": 534}]},
       "mark": {"type": "rule", "color": "black", "strokeWidth": 1.5},
       "encoding": {"x": {"field": "E", "type": "quantitative"}, "y": {"datum": 0}, "y2": {"datum": 6}}
      },
      {
       "data": {"values": [{"E": 527}, {"E": 529}, {"E": 531}, {"E": 533}, {"E": 535}]},
       "mark": {"type": "rule", "color": "black", "strokeWidth": 1.5},
       "encoding": {"x": {"field": "E", "type": "quantitative"}, "y": {"datum": 0}, "y2": {"datum": 3.5}}
      },
      {
       "data": {"values": [{"E": 531.29, "I": 209.4, "t": "O1s"}]},
       "mark": {"type": "text", "font": "Liberation Sans", "fontWeight": "bold", "fontSize": 12, "color": "black", "align": "left", "baseline": "alphabetic"},
       "encoding": {"x": {"field": "E", "type": "quantitative"}, "y": {"field": "I", "type": "quantitative"}, "text": {"field": "t"}}
      },
      {
       "data": {"values": [{"E": 535.86, "I": 142.7, "t": "Au50-WO₃"}, {"E": 535.86, "I": 29.4, "t": "WO₃"}]},
       "mark": {"type": "text", "font": "Liberation Sans", "fontWeight": "bold", "fontSize": 13, "color": "black", "align": "right", "baseline": "alphabetic"},
       "encoding": {"x": {"field": "E", "type": "quantitative"}, "y": {"field": "I", "type": "quantitative"}, "text": {"field": "t"}}
      },
      {
       "data": {"values": [{"E": 525.29, "I": 197.7, "t": "(d)"}]},
       "mark": {"type": "text", "font": "Liberation Sans", "fontWeight": "bold", "fontSize": 33, "color": "black", "align": "left", "baseline": "middle"},
       "encoding": {"x": {"field": "E", "type": "quantitative"}, "y": {"field": "I", "type": "quantitative"}, "text": {"field": "t"}}
      }
     ]
    }
   ]
  }
 ]
}
